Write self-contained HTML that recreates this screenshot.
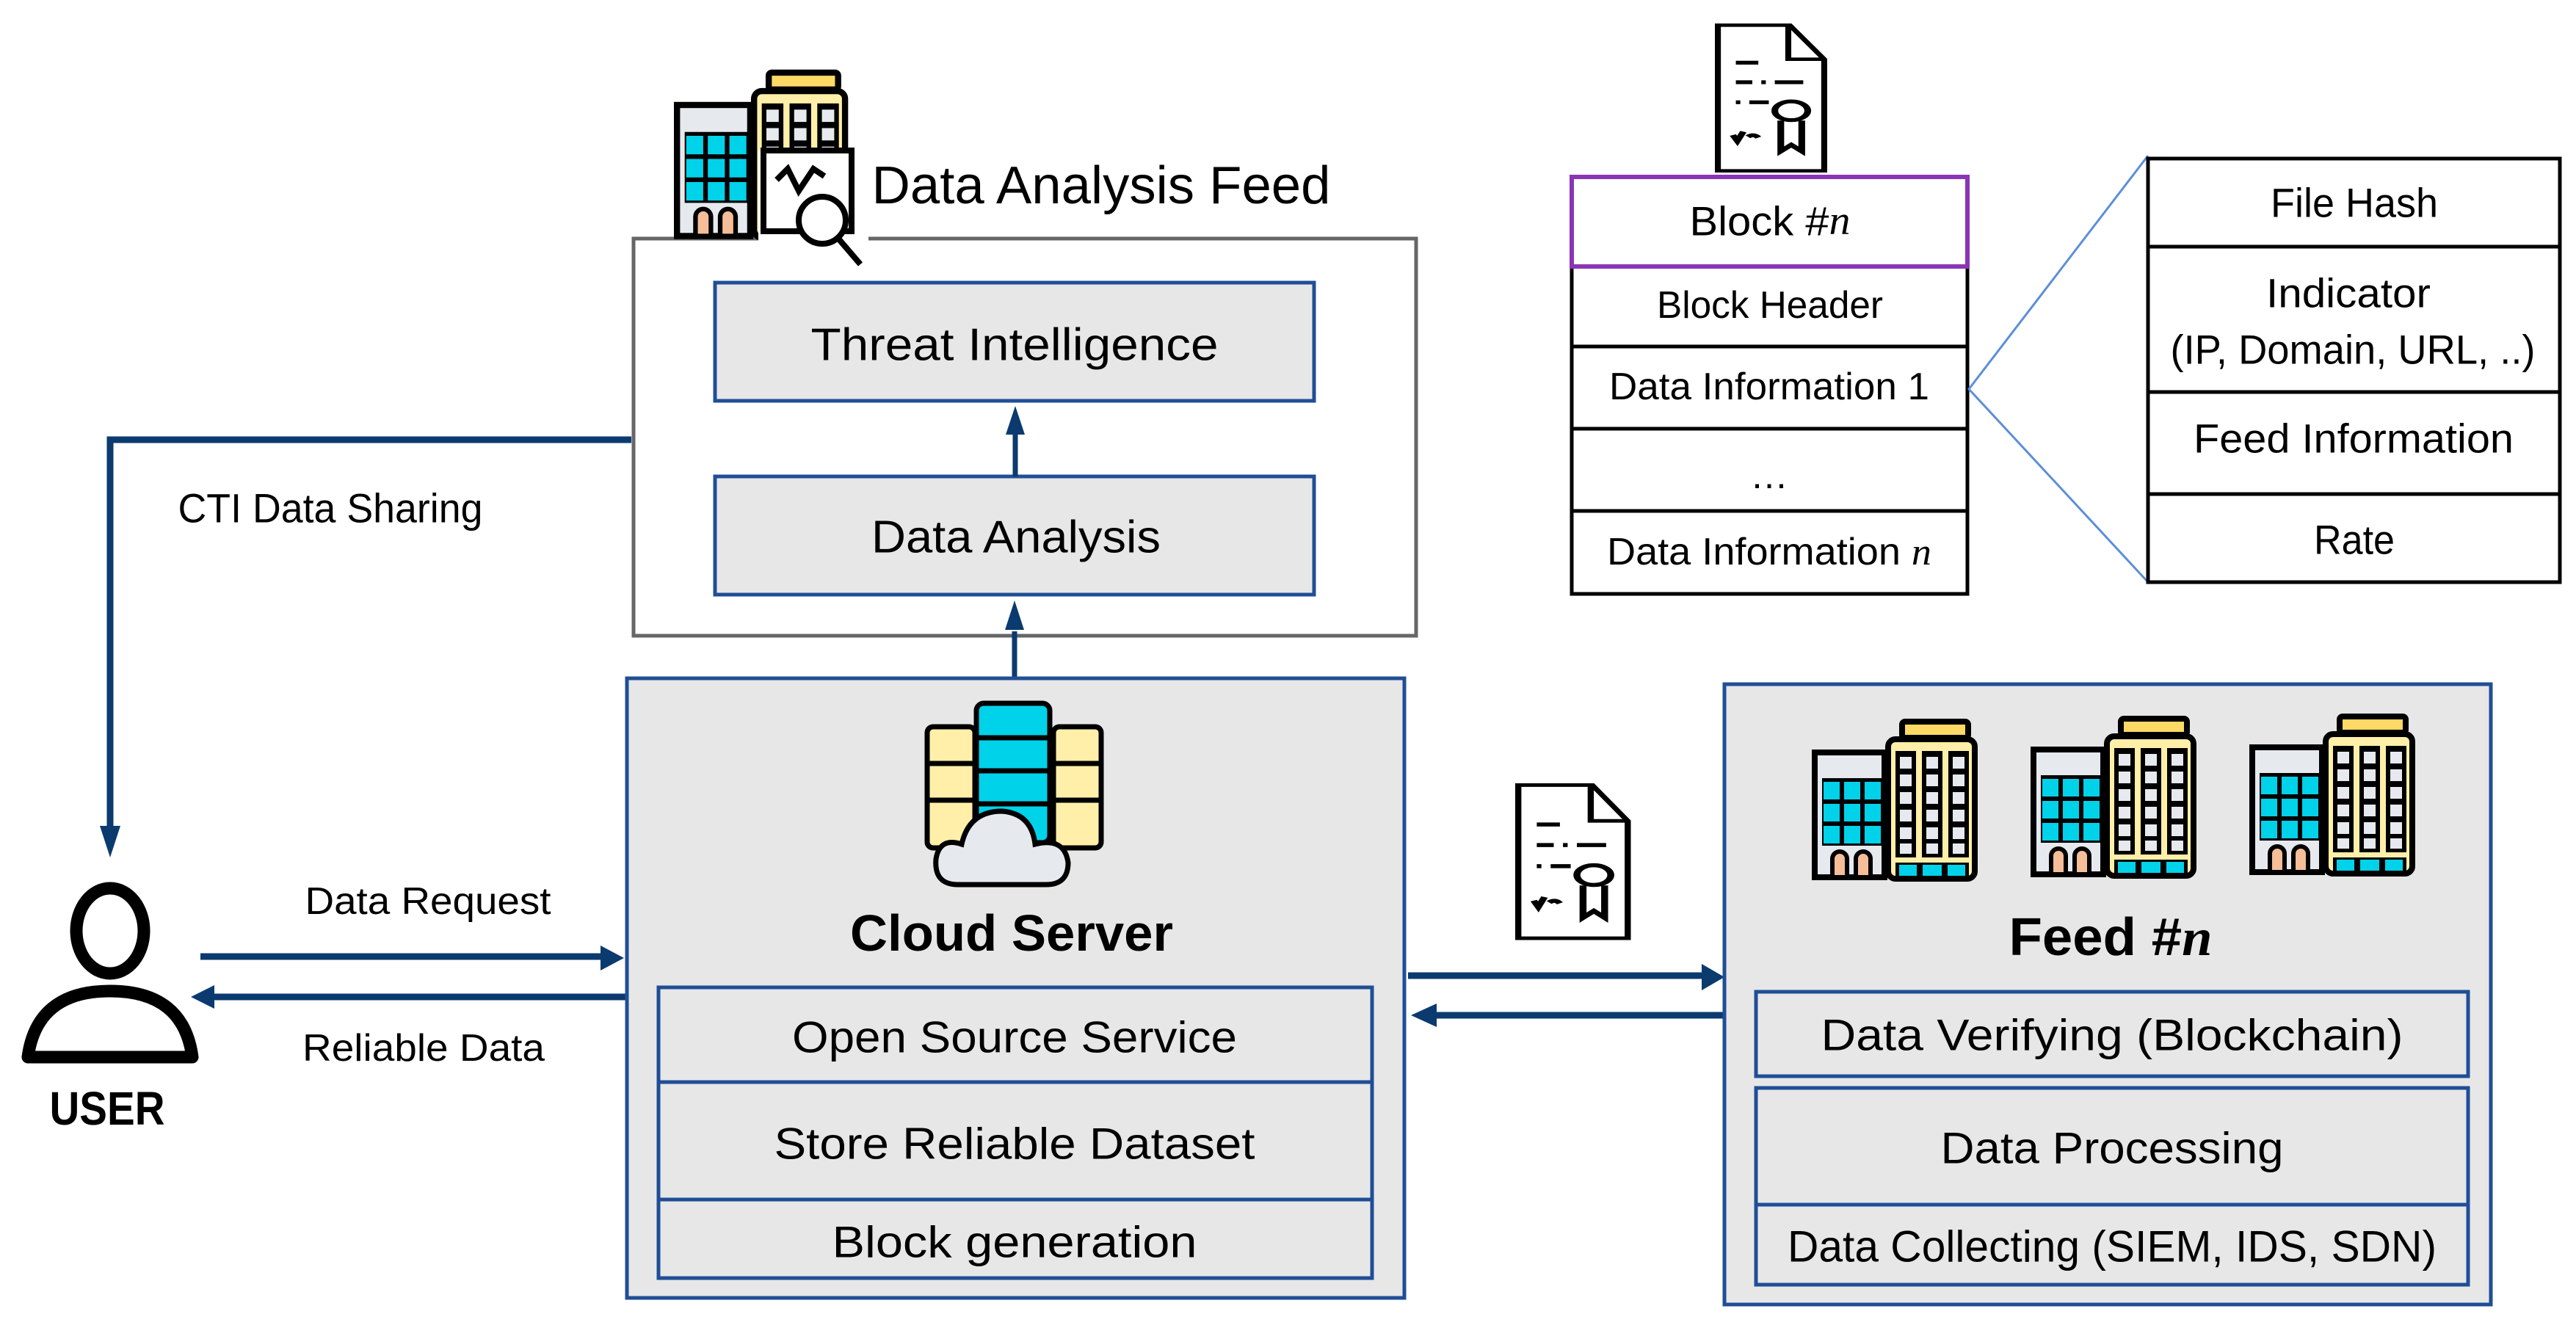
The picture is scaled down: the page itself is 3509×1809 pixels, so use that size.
<!DOCTYPE html>
<html><head><meta charset="utf-8"><style>html,body{margin:0;padding:0;background:#fff}svg{display:block}</style></head>
<body>
<svg width="3509" height="1809" viewBox="0 0 3509 1809" xmlns="http://www.w3.org/2000/svg" font-family="Liberation Sans, sans-serif">
<defs>
<g id="bld">
  <rect x="4" y="60" width="95" height="170" fill="#E6E9EE" stroke="#000" stroke-width="8"/>
  <rect x="14" y="95" width="82" height="92" fill="#000"/>
  <g fill="#00D2EA">
    <rect x="16" y="100" width="22" height="24"/><rect x="44" y="100" width="22" height="24"/><rect x="72" y="100" width="22" height="24"/>
    <rect x="16" y="130" width="22" height="24"/><rect x="44" y="130" width="22" height="24"/><rect x="72" y="130" width="22" height="24"/>
    <rect x="16" y="160" width="22" height="24"/><rect x="44" y="160" width="22" height="24"/><rect x="72" y="160" width="22" height="24"/>
  </g>
  <path d="M28 230 v-25 a10 10 0 0 1 20 0 v25 z M60 230 v-25 a10 10 0 0 1 20 0 v25 z" fill="#F5BE98" stroke="#000" stroke-width="6"/>
  <rect x="123" y="18" width="90" height="22" rx="4" fill="#FFD966" stroke="#000" stroke-width="8"/>
  <rect x="104" y="42" width="118" height="190" rx="10" fill="#FFEFA8" stroke="#000" stroke-width="8"/>
  <g fill="#000"><rect x="114" y="58" width="28" height="145"/><rect x="150" y="58" width="28" height="145"/><rect x="186" y="58" width="28" height="145"/></g>
  <g fill="#E6E9EE">
    <rect x="120" y="66" width="16" height="16"/><rect x="156" y="66" width="16" height="16"/><rect x="192" y="66" width="16" height="16"/>
    <rect x="120" y="90" width="16" height="16"/><rect x="156" y="90" width="16" height="16"/><rect x="192" y="90" width="16" height="16"/>
    <rect x="120" y="114" width="16" height="16"/><rect x="156" y="114" width="16" height="16"/><rect x="192" y="114" width="16" height="16"/>
    <rect x="120" y="138" width="16" height="16"/><rect x="156" y="138" width="16" height="16"/><rect x="192" y="138" width="16" height="16"/>
    <rect x="120" y="162" width="16" height="16"/><rect x="156" y="162" width="16" height="16"/><rect x="192" y="162" width="16" height="16"/>
    <rect x="120" y="184" width="16" height="14"/><rect x="156" y="184" width="16" height="14"/><rect x="192" y="184" width="16" height="14"/>
  </g>
  <rect x="114" y="210" width="100" height="20" fill="#000"/>
  <g fill="#00D2EA"><rect x="119" y="213" width="24" height="15"/><rect x="151" y="213" width="26" height="15"/><rect x="185" y="213" width="24" height="15"/></g>
</g>
<g id="doc">
  <path d="M4 4 H100 L146 84 V346 H4 Z" fill="#fff" stroke="#000" stroke-width="8"/>
  <path d="M98 4 V84 H146" fill="none" stroke="#000" stroke-width="8"/>
  <g stroke="#000" stroke-width="9" fill="none">
    <path d="M28 92 H58"/><path d="M28 138 H50 M62 138 H68 M80 138 H118"/><path d="M28 185 H34 M46 185 H72"/>
    <circle cx="102" cy="205" r="22"/><path d="M88 228 V300 L102 285 L116 300 V228"/>
    <path d="M24 262 l6 14 l8 -22 M44 266 q8 -8 14 2"/>
  </g>
</g>
</defs>

<rect x="863" y="325" width="1066" height="541" fill="#fff" stroke="#666" stroke-width="5"/>
<use href="#bld" transform="translate(918,80) scale(1.05)"/>
<rect x="1033" y="205" width="150" height="155" fill="#fff"/>
<g stroke="#000" stroke-width="8" fill="none">
  <rect x="1040" y="205" width="120" height="110"/>
  <path d="M1058 245 l15 -15 l15 30 l20 -30 l15 10"/>
  <circle cx="1120" cy="300" r="32" fill="#fff"/>
  <path d="M1142 325 l30 35"/>
</g>
<text x="1500" y="253" font-size="72" text-anchor="middle" dominant-baseline="central" textLength="625" lengthAdjust="spacingAndGlyphs">Data Analysis Feed</text>

<rect x="974" y="385" width="816" height="161" fill="#E7E7E7" stroke="#1F4E96" stroke-width="5"/>
<text x="1382" y="470" font-size="62" text-anchor="middle" dominant-baseline="central" textLength="555" lengthAdjust="spacingAndGlyphs">Threat Intelligence</text>
<rect x="974" y="649" width="816" height="161" fill="#E7E7E7" stroke="#1F4E96" stroke-width="5"/>
<text x="1384" y="732" font-size="62" text-anchor="middle" dominant-baseline="central" textLength="394" lengthAdjust="spacingAndGlyphs">Data Analysis</text>
<g stroke="#0B3A6E" stroke-width="7" fill="#0B3A6E">
  <path d="M1383 649 V590"/><path d="M1370 592 L1383 553 L1396 592 Z" stroke="none"/>
  <path d="M1382 924 V860"/><path d="M1369 858 L1382 818 L1395 858 Z" stroke="none"/>
</g>

<path d="M860 599 H150 V1125" fill="none" stroke="#0B3A6E" stroke-width="9"/>
<path d="M136 1125 L150 1168 L164 1125 Z" fill="#0B3A6E"/>
<text x="450" y="692" font-size="56" text-anchor="middle" dominant-baseline="central" textLength="415" lengthAdjust="spacingAndGlyphs">CTI Data Sharing</text>

<ellipse cx="150" cy="1268" rx="46" ry="58" fill="none" stroke="#000" stroke-width="17"/>
<path d="M38 1440 Q50 1350 150 1350 Q250 1350 262 1440 Z" fill="none" stroke="#000" stroke-width="17" stroke-linejoin="round"/>
<text x="146" y="1510" font-size="64" font-weight="bold" text-anchor="middle" dominant-baseline="central" textLength="157" lengthAdjust="spacingAndGlyphs">USER</text>

<path d="M273 1303 H820" stroke="#0B3A6E" stroke-width="9"/>
<path d="M818 1288 L850 1305 L818 1322 Z" fill="#0B3A6E"/>
<path d="M290 1358 H852" stroke="#0B3A6E" stroke-width="9"/>
<path d="M292 1342 L260 1358 L292 1374 Z" fill="#0B3A6E"/>
<text x="583" y="1228" font-size="52" text-anchor="middle" dominant-baseline="central" textLength="335" lengthAdjust="spacingAndGlyphs">Data Request</text>
<text x="577" y="1428" font-size="52" text-anchor="middle" dominant-baseline="central" textLength="330" lengthAdjust="spacingAndGlyphs">Reliable Data</text>

<rect x="854" y="924" width="1059" height="844" fill="#E7E7E7" stroke="#1F4E96" stroke-width="5"/>
<g stroke="#000" stroke-width="7">
  <rect x="1263" y="990" width="65" height="165" rx="8" fill="#FFEFA8"/>
  <rect x="1435" y="990" width="65" height="165" rx="8" fill="#FFEFA8"/>
  <rect x="1330" y="958" width="100" height="190" rx="10" fill="#00D2EA"/>
  <path d="M1330 1005 H1430 M1330 1050 H1430 M1330 1095 H1430 M1263 1040 H1328 M1263 1090 H1328 M1435 1040 H1500 M1435 1090 H1500" fill="none"/>
  <path d="M1305 1205 Q1272 1205 1275 1170 Q1280 1140 1310 1150 Q1320 1105 1365 1105 Q1405 1108 1410 1150 Q1450 1140 1455 1175 Q1455 1205 1425 1205 Z" fill="#E6E9EE"/>
</g>
<text x="1378" y="1271" font-size="70" font-weight="bold" text-anchor="middle" dominant-baseline="central" textLength="440" lengthAdjust="spacingAndGlyphs">Cloud Server</text>
<g fill="#E7E7E7" stroke="#1F4E96" stroke-width="5">
  <rect x="897" y="1345" width="972" height="129"/>
  <rect x="897" y="1474" width="972" height="160"/>
  <rect x="897" y="1634" width="972" height="107"/>
</g>
<text x="1382" y="1413" font-size="60" text-anchor="middle" dominant-baseline="central" textLength="606" lengthAdjust="spacingAndGlyphs">Open Source Service</text>
<text x="1382" y="1558" font-size="60" text-anchor="middle" dominant-baseline="central" textLength="655" lengthAdjust="spacingAndGlyphs">Store Reliable Dataset</text>
<text x="1382" y="1692" font-size="60" text-anchor="middle" dominant-baseline="central" textLength="497" lengthAdjust="spacingAndGlyphs">Block generation</text>

<path d="M1918 1329 H2320" stroke="#0B3A6E" stroke-width="9"/>
<path d="M2318 1313 L2349 1331 L2318 1349 Z" fill="#0B3A6E"/>
<path d="M1955 1383 H2349" stroke="#0B3A6E" stroke-width="9"/>
<path d="M1957 1367 L1922 1383 L1957 1399 Z" fill="#0B3A6E"/>
<use href="#doc" transform="translate(2064,1067) scale(1.05,0.61)"/>

<rect x="2349" y="932" width="1044" height="845" fill="#E7E7E7" stroke="#1F4E96" stroke-width="5"/>
<use href="#bld" transform="translate(2468,965)"/>
<use href="#bld" transform="translate(2766,961)"/>
<use href="#bld" transform="translate(3064,958)"/>
<text x="2875" y="1277" font-size="72" font-weight="bold" text-anchor="middle" dominant-baseline="central" textLength="277" lengthAdjust="spacingAndGlyphs">Feed #<tspan font-family="Liberation Serif" font-style="italic">n</tspan></text>
<g fill="#E7E7E7" stroke="#1F4E96" stroke-width="5">
  <rect x="2392" y="1351" width="970" height="115"/>
  <rect x="2392" y="1482" width="970" height="159"/>
  <rect x="2392" y="1641" width="970" height="109"/>
</g>
<text x="2877" y="1410" font-size="60" text-anchor="middle" dominant-baseline="central" textLength="793" lengthAdjust="spacingAndGlyphs">Data Verifying (Blockchain)</text>
<text x="2877" y="1564" font-size="60" text-anchor="middle" dominant-baseline="central" textLength="467" lengthAdjust="spacingAndGlyphs">Data Processing</text>
<text x="2877" y="1698" font-size="60" text-anchor="middle" dominant-baseline="central" textLength="884" lengthAdjust="spacingAndGlyphs">Data Collecting (SIEM, IDS, SDN)</text>

<use href="#doc" transform="translate(2336,32) scale(1.02,0.58)"/>
<g fill="#fff" stroke="#000" stroke-width="5">
  <rect x="2141" y="363" width="539" height="109"/>
  <rect x="2141" y="472" width="539" height="112"/>
  <rect x="2141" y="584" width="539" height="112"/>
  <rect x="2141" y="696" width="539" height="113"/>
</g>
<rect x="2141" y="241" width="539" height="122" fill="#fff" stroke="#8A35B5" stroke-width="6"/>
<text x="2411" y="301" font-size="56" text-anchor="middle" dominant-baseline="central" textLength="219" lengthAdjust="spacingAndGlyphs">Block #<tspan font-family="Liberation Serif" font-style="italic">n</tspan></text>
<text x="2411" y="416" font-size="52" text-anchor="middle" dominant-baseline="central" textLength="308" lengthAdjust="spacingAndGlyphs">Block Header</text>
<text x="2410" y="527" font-size="52" text-anchor="middle" dominant-baseline="central" textLength="436" lengthAdjust="spacingAndGlyphs">Data Information 1</text>
<text x="2410" y="648" font-size="52" text-anchor="middle" dominant-baseline="central">…</text>
<text x="2410" y="752" font-size="52" text-anchor="middle" dominant-baseline="central" textLength="442" lengthAdjust="spacingAndGlyphs">Data Information <tspan font-family="Liberation Serif" font-style="italic">n</tspan></text>
<path d="M2926 212 L2682 530 L2926 793" fill="none" stroke="#5B8FD9" stroke-width="3"/>
<g fill="#fff" stroke="#000" stroke-width="5">
  <rect x="2926" y="216" width="561" height="120"/>
  <rect x="2926" y="336" width="561" height="198"/>
  <rect x="2926" y="534" width="561" height="139"/>
  <rect x="2926" y="673" width="561" height="120"/>
</g>
<text x="3207" y="276" font-size="56" text-anchor="middle" dominant-baseline="central" textLength="228" lengthAdjust="spacingAndGlyphs">File Hash</text>
<text x="3199" y="399" font-size="56" text-anchor="middle" dominant-baseline="central" textLength="224" lengthAdjust="spacingAndGlyphs">Indicator</text>
<text x="3205" y="476" font-size="56" text-anchor="middle" dominant-baseline="central" textLength="497" lengthAdjust="spacingAndGlyphs">(IP, Domain, URL, ..)</text>
<text x="3206" y="597" font-size="56" text-anchor="middle" dominant-baseline="central" textLength="436" lengthAdjust="spacingAndGlyphs">Feed Information</text>
<text x="3207" y="735" font-size="56" text-anchor="middle" dominant-baseline="central" textLength="110" lengthAdjust="spacingAndGlyphs">Rate</text>
</svg>
</body></html>
